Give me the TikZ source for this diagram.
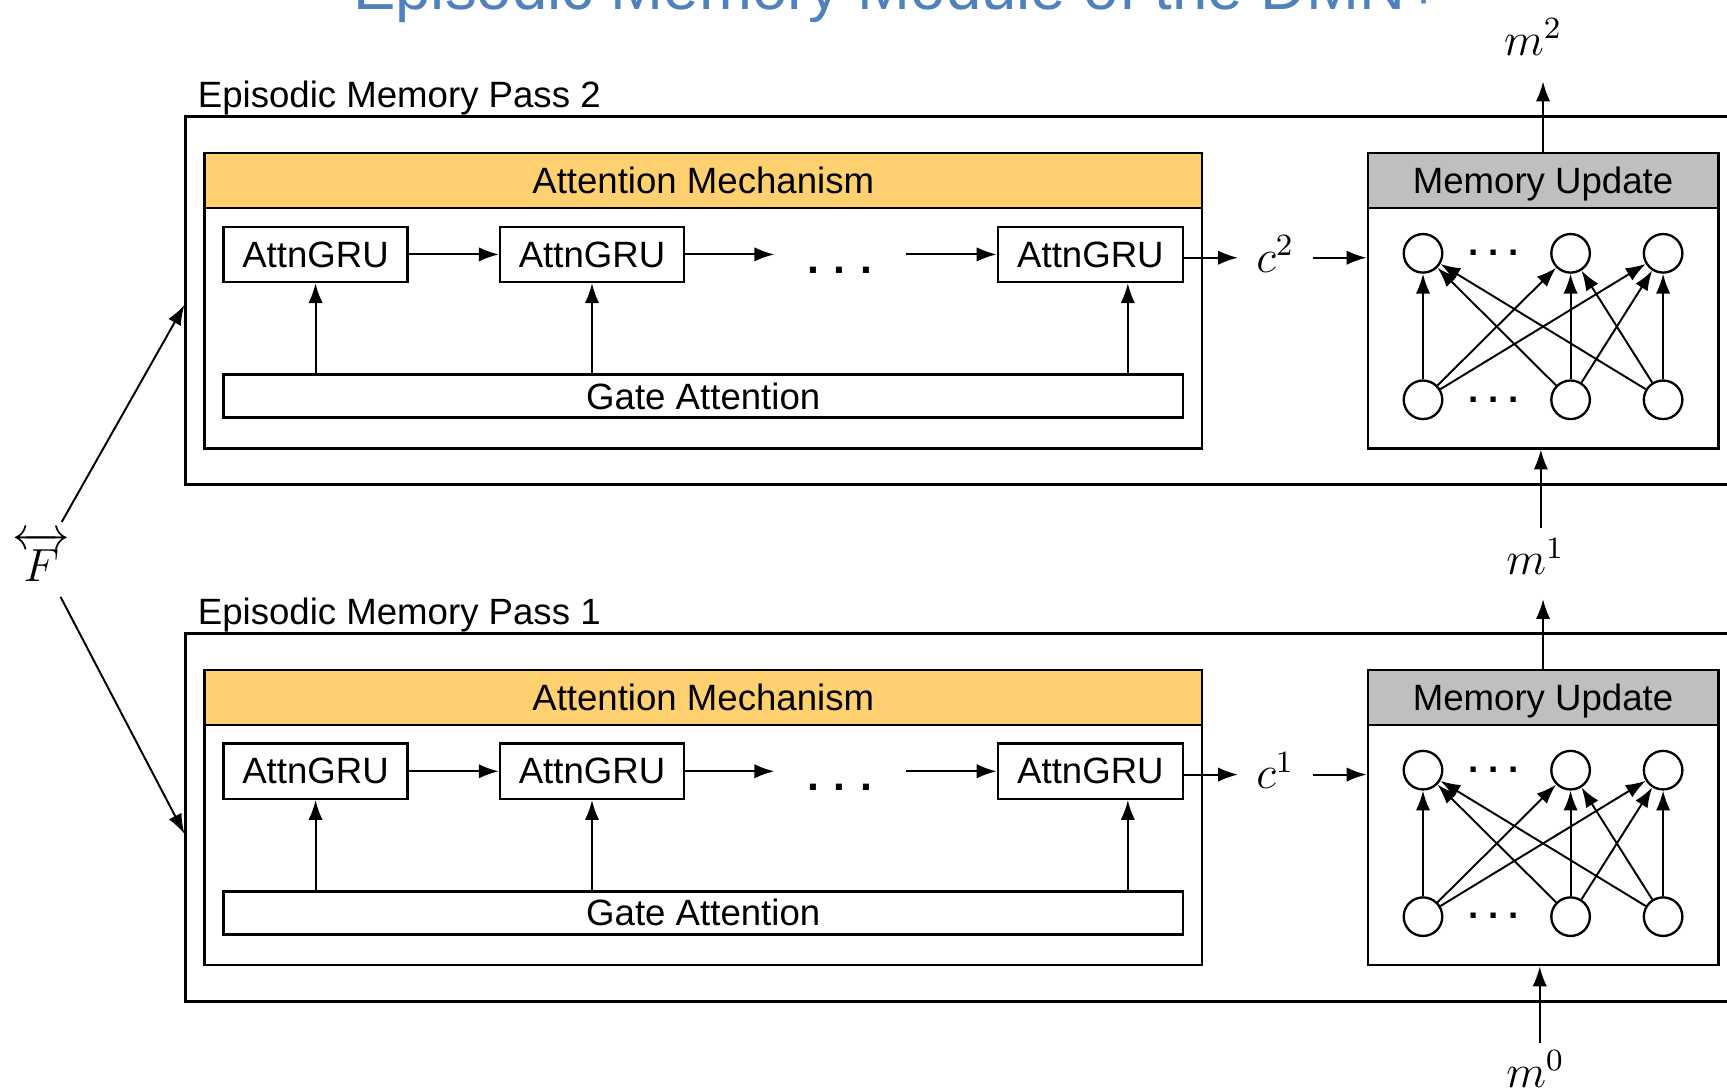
\documentclass[tikz,border=0pt]{standalone}
\usepackage{amsmath}
\usepackage{fontspec}
\setmainfont{Liberation Sans}
\usetikzlibrary{arrows.meta,calc}
\definecolor{attnorange}{RGB}{255,208,112}
\definecolor{memgray}{RGB}{191,191,191}
\definecolor{titleblue}{RGB}{79,129,189}
\tikzset{
  box/.style={draw, line width=0.65pt, rectangle, inner sep=0pt},
  txt/.style={font=\fontsize{9.45pt}{11pt}\selectfont},
  arr/.style={-{Latex[length=0.18cm,width=0.13cm]}, line width=0.5pt},
  neuron/.style={draw, circle, line width=0.6pt, minimum size=0.35cm, inner sep=0pt},
  mlbl/.style={inner sep=0pt, font=\fontsize{12pt}{14pt}\selectfont},
  dotsA/.style={inner sep=0pt, anchor=base, font=\fontsize{11pt}{12pt}\selectfont\bfseries},
  dotsB/.style={inner sep=0pt, anchor=base, font=\fontsize{9.5pt}{10pt}\selectfont\bfseries},
}
\begin{document}
\begin{tikzpicture}[x=0.01cm,y=-0.01cm]
\clip (0,0) rectangle (1568,991);
\fill[white] (0,0) rectangle (1568,991);
% title (cut by the top edge, as in the reference)
\node[anchor=base west, inner sep=0pt, text=titleblue, font=\fontsize{16.4pt}{18pt}\selectfont] (title) at (320,9) {Episodic Memory Module of the DMN+};

\foreach \p/\ys in {2/0cm,1/-4.69cm}{
\begin{scope}[yshift=\ys]
  \node[box, minimum width=14.51cm, minimum height=3.34cm] (outer\p) at (894.5,273) {};
  \node[txt, anchor=base west, inner sep=0pt] (lbl\p) at (179,98) {Episodic Memory Pass \p};
  % attention mechanism
  \node[box, minimum width=9.05cm, minimum height=2.68cm] (attn\p) at (638.5,273) {};
  \node[box, txt, fill=attnorange, text depth=0pt, minimum width=9.05cm, minimum height=0.5cm] (attnh\p) at (638.5,164) {Attention Mechanism};
  \node[box, txt, minimum width=1.67cm, minimum height=0.5cm] (gruA\p) at (286.5,231) {AttnGRU};
  \node[box, txt, minimum width=1.67cm, minimum height=0.5cm] (gruB\p) at (537.5,231) {AttnGRU};
  \node[box, txt, minimum width=1.68cm, minimum height=0.5cm] (gruC\p) at (990,231) {AttnGRU};
  \node[box, txt, minimum width=8.71cm, minimum height=0.39cm] (gate\p) at (638.5,359.5) {Gate Attention};
  \coordinate (dA\p) at (703,231);
  \coordinate (dB\p) at (823,231);
  \node[dotsA] (dots\p) at (762.5,248.5) {.\hspace{0.135cm}.\hspace{0.135cm}.};
  \draw[arr] (gruA\p) -- (gruB\p);
  \draw[arr] (gruB\p.east) -- (dA\p);
  \draw[arr] (dB\p) -- (gruC\p.west);
  \coordinate (gx\p) at (1024,340);
  \draw[arr] (gate\p.north -| gruA\p) -- (gruA\p.south);
  \draw[arr] (gate\p.north -| gruB\p) -- (gruB\p.south);
  \draw[arr] (gate\p.north -| gx\p) -- (gruC\p.south -| gx\p);
  % episode c
  \node[mlbl, anchor=base west, inner xsep=0.16cm] (c\p) at (1124,247) {$c^\p$};
  \coordinate (cy\p) at (1100,234);
  % memory update
  \node[box, minimum width=3.18cm, minimum height=2.68cm] (mem\p) at (1401,273) {};
  \node[box, txt, fill=memgray, text depth=0pt, minimum width=3.18cm, minimum height=0.5cm] (memh\p) at (1401,164) {Memory Update};
  \draw[arr] (gruC\p.east |- cy\p) -- (c\p.west |- cy\p);
  \draw[arr] (c\p.east |- cy\p) -- (mem\p.west |- cy\p);
  \node[neuron] (t1\p) at (1292,230) {};
  \node[neuron] (t2\p) at (1426,230) {};
  \node[neuron] (t3\p) at (1510,230) {};
  \node[neuron] (b1\p) at (1292,363) {};
  \node[neuron] (b2\p) at (1426,363) {};
  \node[neuron] (b3\p) at (1510,363) {};
  \node[dotsB] (tdots\p) at (1356,232) {.\hspace{0.09cm}.\hspace{0.09cm}.};
  \node[dotsB] (bdots\p) at (1356,365) {.\hspace{0.09cm}.\hspace{0.09cm}.};
  \foreach \i in {1,2,3}{\foreach \j in {1,2,3}{\draw[arr] (b\i\p) -- (t\j\p);}}
\end{scope}
}

% memories
\node[mlbl, anchor=base west] (m2) at (1365,50) {$m^2$};
\coordinate (m2tip) at (1401,74);
\draw[arr] (mem2.north) -- (m2tip);
\node[mlbl, anchor=base west] (m1) at (1367,522) {$m^1$};
\coordinate (m1a) at (1399,479);
\coordinate (m1b) at (1401,544);
\draw[arr] (m1a) -- (mem2.south -| m1a);
\draw[arr] (mem1.north) -- (m1b);
\node[mlbl, anchor=base west] (m0) at (1367,987) {$m^0$};
\coordinate (m0a) at (1398,947);
\draw[arr] (m0a) -- (mem1.south -| m0a);

% facts
\node[mlbl, anchor=base west, font=\fontsize{12.5pt}{14pt}\selectfont] (F) at (11,528) {$\overleftrightarrow{F}$};
\coordinate (fa) at (56,474);
\coordinate (fb) at (55,542);
\coordinate (fta) at (169,277);
\coordinate (ftb) at (169,757);
\draw[arr] (fa) -- (outer2.west |- fta);
\draw[arr] (fb) -- (outer1.west |- ftb);
\end{tikzpicture}
\end{document}
